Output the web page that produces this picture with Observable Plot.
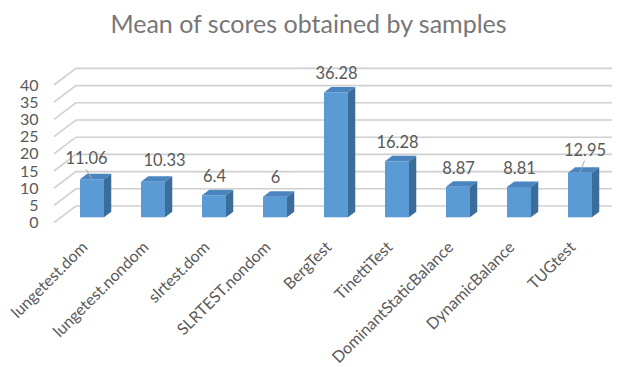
<!DOCTYPE html>
<html>
<head>
<meta charset="utf-8">
<script src="https://cdn.jsdelivr.net/npm/d3@7"></script>
<script src="https://cdn.jsdelivr.net/npm/@observablehq/plot@0.6"></script>
<style>
  body { margin: 0; background: #fff; }
  #wrap { position: relative; width: 617px; height: 367px; overflow: hidden; font-family: Lato, sans-serif; }
  #title { position: absolute; left: 0; top: 11px; width: 617px; text-align: center; font-size: 25px; line-height: 25px; color: #777777; }
  #chart { position: absolute; left: 0; top: 0; }
</style>
</head>
<body>
<div id="wrap">
  <div id="chart"></div>
  <div id="title">Mean of scores obtained by samples</div>
</div>
<script>
// ---- data ----
const categories = ["lungetest.dom", "lungetest.nondom", "slrtest.dom", "SLRTEST.nondom", "BergTest",
  "TinettiTest", "DominantStaticBalance", "DynamicBalance", "TUGtest"];
const means = [11.06, 10.33, 6.4, 6, 36.28, 16.28, 8.87, 8.81, 12.95];
const yTicks = [0, 5, 10, 15, 20, 25, 30, 35, 40];

// ---- layout / style (not data) ----
const labelNudge = {
  "lungetest.dom": {dx: -6, dy: -2, leader: true},
  "lungetest.nondom": {dx: 11, dy: -3, leader: false},
  "TUGtest": {dx: 4.5, dy: -4, leader: true}
};
const depth = {dx: 22, dy: -16.6};   // floor depth vector (front edge -> back wall)
const fFront = 0.32;                  // bar front plane position along depth
const fBack = 0.65;                   // bar back plane position along depth
const labelGap = -19;
const labelStyle = {fill: "#595959", fontSize: 16.5};

const data = categories.map((c, i) => ({category: c, value: means[i]}));

function grid3d(index, scales, values, dims) {
  const y = scales.y;
  const g = d3.create("svg:g").attr("fill", "none").attr("stroke", "#d0d0d0").attr("stroke-width", 1.6);
  const x0 = dims.marginLeft;
  for (const t of yTicks) {
    const py = y(t);
    const ax = x0 - fFront * depth.dx, ay = py - fFront * depth.dy;
    const bx = x0 + (1 - fFront) * depth.dx, by = py + (1 - fFront) * depth.dy;
    const ex = dims.width - 5;
    g.append("path").attr("d", `M${ax},${ay}L${bx},${by}H${ex}`);
  }
  return g.node();
}

function bars3d(index, scales, values, dims) {
  const {x, y} = scales;
  const bw = x.bandwidth();
  const bdx = (fBack - fFront) * depth.dx, bdy = (fBack - fFront) * depth.dy;
  const g = d3.create("svg:g");
  for (const d of data) {
    const x0 = x(d.category), x1 = x0 + bw;
    const yt = y(d.value), yb = y(0);
    g.append("path").attr("fill", "#4a85bf")
      .attr("d", `M${x0},${yt}L${x1},${yt}L${x1 + bdx},${yt + bdy}L${x0 + bdx},${yt + bdy}Z`);
    g.append("path").attr("fill", "#3b6d9b")
      .attr("d", `M${x1},${yt}L${x1 + bdx},${yt + bdy}L${x1 + bdx},${yb + bdy}L${x1},${yb}Z`);
  }
  return g.node();
}

function leaders(index, scales, values, dims) {
  const {x, y} = scales;
  const bw = x.bandwidth();
  const g = d3.create("svg:g").attr("stroke", "#a6a6a6").attr("stroke-width", 1).attr("fill", "none");
  for (const d of data) {
    const n = labelNudge[d.category];
    if (!n || !n.leader) continue;
    const cx = x(d.category) + bw / 2;
    const lx = cx + n.dx, ly = y(d.value) + labelGap + n.dy;
    g.append("path").attr("d", `M${lx},${ly + 11}L${cx},${y(d.value) - 0.5}`);
  }
  return g.node();
}

const plainLabels = data.filter(d => !labelNudge[d.category]);
const nudgedLabelMarks = data.filter(d => labelNudge[d.category]).map(d =>
  Plot.text([d], {x: "category", y: "value", text: v => String(v.value), ...labelStyle,
    dx: labelNudge[d.category].dx, dy: labelGap + labelNudge[d.category].dy}));

const chart = Plot.plot({
  width: 617,
  height: 367,
  marginLeft: 61,
  marginRight: 6,
  marginTop: 79.7,
  marginBottom: 149.7,
  x: {domain: categories, paddingInner: 0.6, paddingOuter: 0.3, axis: null},
  y: {domain: [0, 40], axis: null},
  style: {fontFamily: "Lato, sans-serif", background: "transparent", overflow: "visible"},
  marks: [
    grid3d,
    Plot.barY(data, {x: "category", y: "value", fill: "#5b9bd5"}),
    bars3d,
    leaders,
    Plot.text(yTicks, {y: d => d, text: d => String(d), frameAnchor: "left", dx: -23, dy: -fFront * depth.dy,
      textAnchor: "end", fill: "#595959", fontSize: 16}),
    Plot.text(plainLabels, {x: "category", y: "value", text: d => String(d.value), ...labelStyle, dy: labelGap}),
    ...nudgedLabelMarks,
    Plot.text(categories, {x: d => d, text: d => d, frameAnchor: "bottom", rotate: -45, textAnchor: "end",
      dx: -4, dy: 30.5, fill: "#595959", fontSize: 16})
  ]
});
document.getElementById("chart").appendChild(chart);
</script>
</body>
</html>
